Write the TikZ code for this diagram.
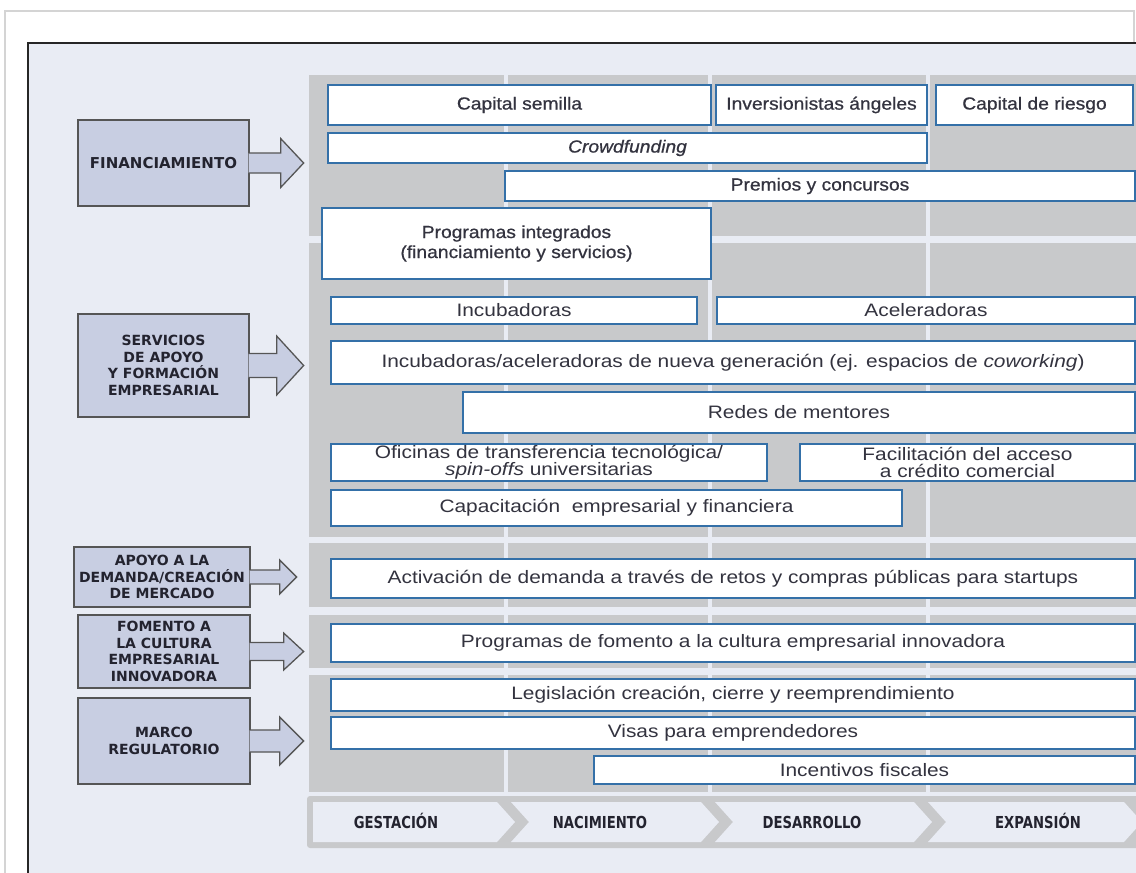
\documentclass[tikz,border=0pt]{standalone}
\usepackage{fontspec}
\setmainfont{Liberation Sans}[FakeStretch=1.16]
\newfontfamily\topfont{Liberation Sans}[FakeStretch=1.1,FakeBold=0.7]
\newfontfamily\labelfont{DejaVu Sans}
\newfontfamily\stagefont{DejaVu Sans}[FakeStretch=0.8]
\usepackage{tikz}

\definecolor{bgblue}{HTML}{E9ECF4}
\definecolor{panelgray}{HTML}{C8C9CB}
\definecolor{boxblue}{HTML}{3470A8}
\definecolor{boxtext}{HTML}{33333F}
\definecolor{labelfill}{HTML}{C8CEE2}
\definecolor{labelline}{HTML}{555555}
\definecolor{labeltext}{HTML}{23232F}
\definecolor{framegray}{HTML}{D4D4D4}

\begin{document}
\begin{tikzpicture}[x=1pt,y=-1pt,
            box/.style={draw=boxblue,line width=1.4pt,fill=white,inner sep=0pt,
                text=boxtext,font=\fontsize{18}{17}\selectfont,align=center},
            topbox/.style={box,font=\topfont\fontsize{17.5}{20}\selectfont},
            label/.style={draw=labelline,line width=1.3pt,fill=labelfill,inner sep=0pt,
                text=labeltext,font=\labelfont\bfseries\fontsize{14}{16.5}\selectfont,align=center},
            blockarrow/.style={draw=labelline,line width=1.3pt,fill=labelfill,miter limit=10},
            stage/.style={fill=bgblue},
            stagetext/.style={text=labeltext,anchor=base,font=\stagefont\bfseries\fontsize{16.5}{16}\selectfont},
            gap/.style={draw=bgblue,line width=3.5pt}]
            \useasboundingbox (0,0) rectangle (1136,873);
            \clip (0,0) rectangle (1136,873);

            % page, frame
            \fill[white] (0,0) rectangle (1136,873);
            \draw[framegray,line width=1.5pt] (5,11) rectangle (1134,900);
            \draw[black!85,line width=2.5pt,fill=bgblue] (28,43) rectangle (1160,900);

            % gray bands and column gaps
            \fill[panelgray] (309,75) rectangle (1145,236);
            \fill[panelgray] (309,243) rectangle (1145,537);
            \fill[panelgray] (309,543) rectangle (1145,607);
            \fill[panelgray] (309,615) rectangle (1145,668);
            \fill[panelgray] (309,675) rectangle (1145,792);
            \draw[gap] (506,75) -- (506,792);
            \draw[gap] (710,75) -- (710,792);
            \draw[gap] (928,75) -- (928,792);

            % stages
            \fill[panelgray,rounded corners=3pt] (307,796) rectangle (1150,848);
            \fill[stage] (313,802) -- (497,802) -- (515,822) -- (497,842) -- (313,842) -- cycle;
            \fill[stage] (511,802) -- (701,802) -- (719,822) -- (701,842) -- (511,842) -- (529,822) -- cycle;
            \fill[stage] (715,802) -- (914,802) -- (932,822) -- (914,842) -- (715,842) -- (733,822) -- cycle;
            \fill[stage] (928,802) -- (1124,802) -- (1142,822) -- (1124,842) -- (928,842) -- (946,822) -- cycle;
            \node[stagetext] (gest) at (396,828) {GESTACIÓN};
            \node[stagetext] (nac) at (600,828) {NACIMIENTO};
            \node[stagetext] (desa) at (812,828) {DESARROLLO};
            \node[stagetext] (expa) at (1038,828) {EXPANSIÓN};

            % left labels
            \node[label,minimum width=171,minimum height=86,
                font=\labelfont\bfseries\fontsize{15}{16.5}\selectfont] (fin) at (163.5,163) {FINANCIAMIENTO};
            \node[label,minimum width=171,minimum height=103] (serv) at (163.5,365.5)
                {SERVICIOS\\DE APOYO\\Y FORMACIÓN\\EMPRESARIAL};
            \node[label,minimum width=176,minimum height=60] (dem) at (162,577)
                {APOYO A LA\\DEMANDA/CREACIÓN\\DE MERCADO};
            \node[label,minimum width=172,minimum height=73] (cult) at (164,651.5)
                {FOMENTO A\\LA CULTURA\\EMPRESARIAL\\INNOVADORA};
            \node[label,minimum width=172,minimum height=86] (marco) at (164,741)
                {MARCO\\REGULATORIO};

            \draw[blockarrow] ([xshift=-1pt,yshift=10pt]fin.east) -- ++(32,0) -- ++(0,-14.5)
                -- ++(23,24.5) -- ++(-23,24.5) -- ++(0,-14.5) -- ([xshift=-1pt,yshift=-10pt]fin.east);
            \draw[blockarrow] ([xshift=-1pt,yshift=12pt]serv.east) -- ++(28,0) -- ++(0,-17.5)
                -- ++(27,29.5) -- ++(-27,29.5) -- ++(0,-17.5) -- ([xshift=-1pt,yshift=-12pt]serv.east);
            \draw[blockarrow] ([xshift=-1pt,yshift=7pt]dem.east) -- ++(30,0) -- ++(0,-10)
                -- ++(17,17) -- ++(-17,17) -- ++(0,-10) -- ([xshift=-1pt,yshift=-7pt]dem.east);
            \draw[blockarrow] ([xshift=-1pt,yshift=9pt]cult.east) -- ++(34,0) -- ++(0,-9.5)
                -- ++(20,18.5) -- ++(-20,18.5) -- ++(0,-9.5) -- ([xshift=-1pt,yshift=-9pt]cult.east);
            \draw[blockarrow] ([xshift=-1pt,yshift=11pt]marco.east) -- ++(30,0) -- ++(0,-13)
                -- ++(24,24) -- ++(-24,24) -- ++(0,-13) -- ([xshift=-1pt,yshift=-11pt]marco.east);

            % financiamiento
            \node[topbox,minimum width=383,minimum height=40] (semilla) at (519.5,105) {Capital semilla};
            \node[topbox,minimum width=211,minimum height=40] (angeles) at (821.5,105) {Inversionistas ángeles};
            \node[topbox,minimum width=197,minimum height=40] (riesgo) at (1034.5,105) {Capital de riesgo};
            \node[topbox,minimum width=599,minimum height=30] (crowd) at (627.5,148) {\textit{Crowdfunding}};
            \node[topbox,minimum width=630,minimum height=30] (premios) at (820,186) {Premios y concursos};
            \node[topbox,minimum width=389,minimum height=71] (integ) at (516.5,243.5)
                {Programas integrados\\(financiamiento y servicios)};

            % servicios
            \node[box,minimum width=366,minimum height=27] (incub) at (514,310.5) {Incubadoras};
            \node[box,minimum width=418,minimum height=27] (acel) at (926,310.5) {Aceleradoras};
            \node[box,minimum width=804,minimum height=43] (nuevagen) at (733,362.5)
                {Incubadoras/aceleradoras de nueva generación (ej. espacios de \textit{coworking})};
            \node[box,minimum width=672,minimum height=41] (mentores) at (799,412.5) {Redes de mentores};
            \node[box,minimum width=436,minimum height=37] (oficinas) at (549,462.5)
                {Oficinas de transferencia tecnológica/\\\textit{spin-offs} universitarias};
            \node[box,minimum width=335,minimum height=37] (credito) at (967.5,462.5)
                {Facilitación del acceso\\a crédito comercial};
            \node[box,minimum width=571,minimum height=36] (capacit) at (616.5,508)
                {Capacitación\ \ empresarial y financiera};

            % demanda, cultura, marco
            \node[box,minimum width=804,minimum height=39] (retos) at (733,578.5)
                {Activación de demanda a través de retos y compras públicas para startups};
            \node[box,minimum width=804,minimum height=38] (fomento) at (733,643)
                {Programas de fomento a la cultura empresarial innovadora};
            \node[box,minimum width=804,minimum height=32] (legis) at (733,695)
                {Legislación creación, cierre y reemprendimiento};
            \node[box,minimum width=804,minimum height=32] (visas) at (733,733) {Visas para emprendedores};
            \node[box,minimum width=541,minimum height=28] (fiscal) at (864.5,770) {Incentivos fiscales};
        \end{tikzpicture}
\end{document}
